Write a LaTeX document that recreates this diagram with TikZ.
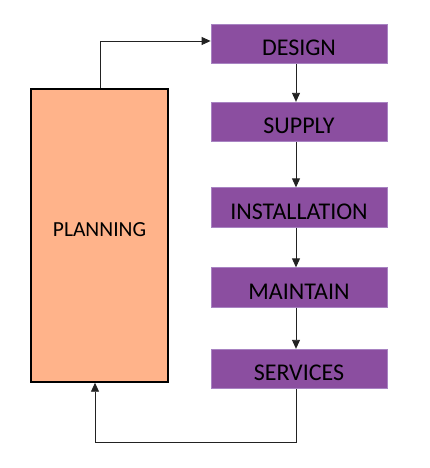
\documentclass[tikz,border=0pt]{standalone}
\usepackage{fontspec}
\setmainfont{Carlito}
\usetikzlibrary{arrows.meta}
\definecolor{purp}{HTML}{8B4EA0}
\definecolor{purpedge}{HTML}{A883C2}
\definecolor{peach}{HTML}{FFB38A}
\definecolor{linec}{HTML}{222222}
\begin{document}
\begin{tikzpicture}[x=1pt,y=1pt,
  stepbox/.style={draw=purpedge,line width=0.8pt,fill=purp,minimum width=176pt,minimum height=39.5pt,inner sep=0pt,text height=30pt,text depth=6.6pt,font=\fontsize{24}{28}\selectfont,text=black},
  conn/.style={draw=linec,line width=0.9pt,-{Triangle[length=9pt,width=8pt]}}]
\useasboundingbox (0,0) rectangle (429,468);
\node[draw=black,line width=1.5pt,fill=peach,minimum width=137pt,minimum height=293pt,inner sep=0pt,text height=15pt,text depth=13.2pt,font=\fontsize{21.5}{25}\selectfont] (plan) at (99.5,232.5) {PLANNING};
\node[stepbox] (design) at (299,424) {DESIGN};
\node[stepbox] (supply) at (299,346) {SUPPLY};
\node[stepbox] (inst) at (299,260.5) {INSTALLATION};
\node[stepbox] (maint) at (299,180.5) {MAINTAIN};
\node[stepbox] (serv) at (299,99) {SERVICES};
\coordinate (top) at (100,427);
\coordinate (bot) at (296,26);
\coordinate (botl) at (95,26);
\draw[conn] (plan.north -| top) -- (top) -- (design.west |- top);
\draw[conn] (design.south -| bot) -- (supply.north -| bot);
\draw[conn] (supply.south -| bot) -- (inst.north -| bot);
\draw[conn] (inst.south -| bot) -- (maint.north -| bot);
\draw[conn] (maint.south -| bot) -- (serv.north -| bot);
\draw[conn] (serv.south -| bot) -- (bot) -- (botl) -- (plan.south -| botl);
\end{tikzpicture}
\end{document}
